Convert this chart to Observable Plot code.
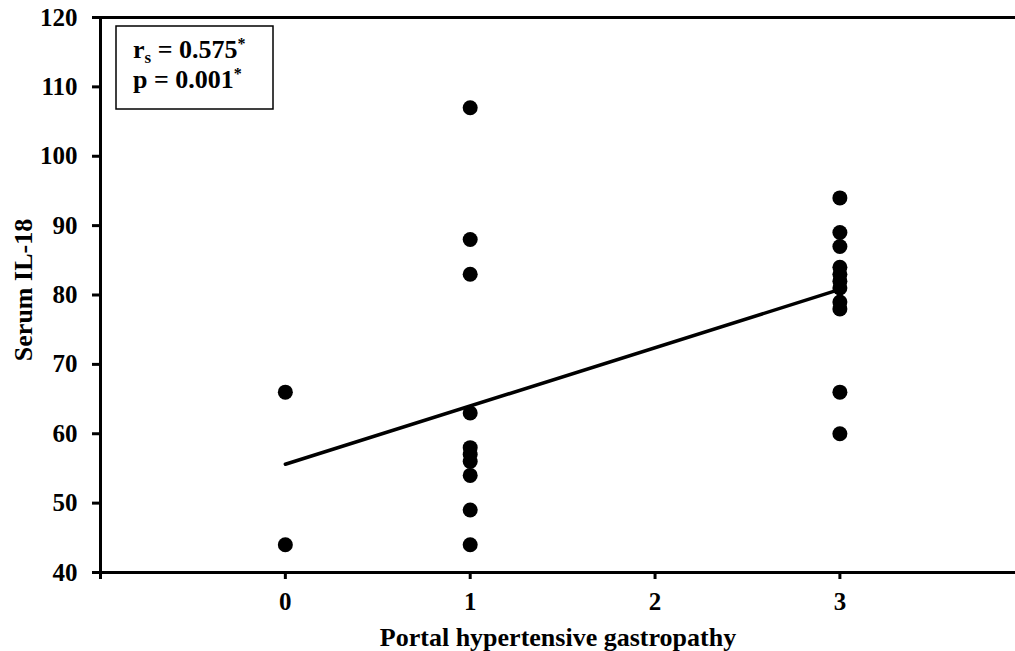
<!DOCTYPE html>
<html>
<head>
<meta charset="utf-8">
<script src="https://cdn.jsdelivr.net/npm/d3@7"></script>
<script src="https://cdn.jsdelivr.net/npm/@observablehq/plot@0.6"></script>
<style>
  html, body { margin: 0; padding: 0; background: #fff; }
  #chart svg { display: block; }
  #chart svg text { font-family: "Liberation Serif", serif; font-weight: bold; }
</style>
</head>
<body>
<div id="chart"></div>
<script>
// Data
const grade0 = [66, 44];
const grade1 = [107, 88, 83, 63, 58, 57, 56, 54, 49, 44];
const grade3 = [94, 89, 87, 84, 83, 82, 81, 79, 78, 66, 60];
const groupX = [0, 1, 3];
const fitX = [0, 3];
const fitY = [55.6, 80.8];
const xTicks = [-1, 0, 1, 2, 3];
const yTicks = [40, 50, 60, 70, 80, 90, 100, 110, 120];
const statR = "0.575";
const statP = "0.001";

const points = [
  ...grade0.map(v => ({x: groupX[0], y: v})),
  ...grade1.map(v => ({x: groupX[1], y: v})),
  ...grade3.map(v => ({x: groupX[2], y: v}))
];
const fit = fitX.map((x, i) => ({x, y: fitY[i]}));

const W = 1015, H = 651;
const chart = Plot.plot({
  width: W,
  height: H,
  marginLeft: 100,
  marginRight: 0,
  marginTop: 17,
  marginBottom: 79,
  style: {fontFamily: "Liberation Serif, serif", fontWeight: "bold", fontSize: "24px", color: "#000", background: "#fff"},
  x: {domain: [-1, 3.95]},
  y: {domain: [40, 120]},
  marks: [
    Plot.ruleY([120], {stroke: "#000", strokeWidth: 3}),
    Plot.ruleY([40], {stroke: "#000", strokeWidth: 3}),
    Plot.ruleX([-1], {stroke: "#000", strokeWidth: 3}),
    Plot.axisY({ticks: yTicks, tickSize: 8, tickPadding: 15, strokeWidth: 3, fontSize: 25, label: null}),
    Plot.axisX({ticks: xTicks, tickSize: 7, tickPadding: 13, strokeWidth: 3, fontSize: 25,
      tickFormat: d => d < 0 ? "" : String(d), label: null}),
    Plot.text(["Serum IL-18"], {frameAnchor: "left", textAnchor: "middle", lineAnchor: "middle", rotate: -90, dx: -77, dy: -5, fontSize: 26, fill: "#000"}),
    Plot.text(["Portal hypertensive gastropathy"], {frameAnchor: "bottom", lineAnchor: "bottom", dy: 73, fontSize: 26, fill: "#000"}),
    Plot.line(fit, {x: "x", y: "y", stroke: "#000", strokeWidth: 3.5}),
    Plot.dot(points, {x: "x", y: "y", r: 7.5, fill: "#000", stroke: "none"})
  ]
});

// Statistics box (rich text with subscript/superscript)
const svg = d3.select(chart);
const g = svg.append("g").attr("text-anchor", "start");
g.append("rect").attr("x", 116).attr("y", 26).attr("width", 157).attr("height", 83)
  .attr("fill", "#fff").attr("stroke", "#000").attr("stroke-width", 1.5);
const t1 = g.append("text").attr("x", 133).attr("y", 58).attr("font-size", 26).attr("text-anchor", "start");
t1.append("tspan").text("r");
t1.append("tspan").attr("font-size", 17).attr("dy", 5).text("s");
t1.append("tspan").attr("dy", -5).text(" = " + statR);
t1.append("tspan").attr("font-size", 16).attr("dy", -9).text("*");
const t2 = g.append("text").attr("x", 133).attr("y", 88).attr("font-size", 26).attr("text-anchor", "start");
t2.append("tspan").text("p = " + statP);
t2.append("tspan").attr("font-size", 16).attr("dy", -9).text("*");

document.getElementById("chart").appendChild(chart);
</script>
</body>
</html>
